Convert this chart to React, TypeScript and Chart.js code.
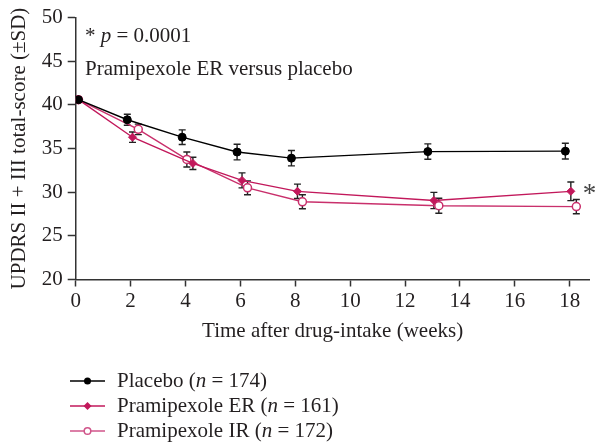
import React, { useEffect, useRef } from "react";
import { Chart, registerables } from "chart.js";

Chart.register(...registerables);

// ---- Data ----
const xTickValues = [0, 2, 4, 6, 8, 10, 12, 14, 16, 18];
const yTickValues = [20, 25, 30, 35, 40, 45, 50];

const seriesNames = ["Placebo", "Pramipexole ER", "Pramipexole IR"];
const seriesN = [174, 161, 172];

const placeboX = [0.1, 1.88, 3.88, 5.88, 7.86, 12.83, 17.84];
const placeboY = [40.6, 38.3, 36.3, 34.6, 33.9, 34.65, 34.7];
const placeboSD = [0, 0.63, 0.84, 0.9, 0.88, 0.88, 0.9];

const erX = [0.1, 2.07, 4.27, 6.06, 8.08, 13.05, 18.04];
const erY = [40.6, 36.3, 33.3, 31.35, 30.1, 29.05, 30.1];
const erSD = [0, 0.59, 0.7, 0.86, 0.82, 0.93, 1.07];

const irX = [0.1, 2.28, 4.05, 6.26, 8.26, 13.23, 18.24];
const irY = [40.6, 37.2, 33.75, 30.5, 28.9, 28.45, 28.35];
const irSD = [0, 0.6, 0.86, 0.8, 0.8, 0.86, 0.82];

const FONT = '"Liberation Serif", "Times New Roman", serif';
const FS = 21;
const TEXT = "#231f20";
const AXIS = "#333333";
const BLACK = "#000000";
const ER_COLOR = "#c2185b";
const IR_COLOR = "#c9306c";

const sdLists = [placeboSD, erSD, irSD];

function drawRuns(ctx: CanvasRenderingContext2D, x: number, y: number, runs: [string, boolean][], size: number) {
  let cx = x;
  for (const [t, it] of runs) {
    ctx.font = `${it ? "italic " : ""}${size}px ${FONT}`;
    ctx.fillText(t, cx, y);
    cx += ctx.measureText(t).width;
  }
}

const errorBarPlugin = {
  id: "errorBars",
  beforeDatasetsDraw(chart: any) {
    const ctx = chart.ctx as CanvasRenderingContext2D;
    const xs = chart.scales.x;
    const ys = chart.scales.y;
    ctx.save();
    ctx.strokeStyle = "#222";
    ctx.lineWidth = 1.4;
    chart.data.datasets.forEach((ds: any, di: number) => {
      const sds = sdLists[di];
      ds.data.forEach((p: any, i: number) => {
        const sd = sds[i];
        if (!sd) return;
        const px = xs.getPixelForValue(p.x);
        const top = ys.getPixelForValue(p.y + sd);
        const bot = ys.getPixelForValue(p.y - sd);
        ctx.beginPath();
        ctx.moveTo(px, top);
        ctx.lineTo(px, bot);
        ctx.moveTo(px - 3.5, top);
        ctx.lineTo(px + 3.5, top);
        ctx.moveTo(px - 3.5, bot);
        ctx.lineTo(px + 3.5, bot);
        ctx.stroke();
      });
    });
    ctx.restore();
  },
};

const annotationPlugin = {
  id: "annotations",
  afterDraw(chart: any) {
    const ctx = chart.ctx as CanvasRenderingContext2D;
    const xs = chart.scales.x;
    const ys = chart.scales.y;
    ctx.save();
    ctx.fillStyle = TEXT;
    ctx.textBaseline = "alphabetic";
    ctx.textAlign = "left";
    drawRuns(ctx, 85, 42, [["* ", false], ["p", true], [" = 0.0001", false]], FS);
    drawRuns(ctx, 85, 75, [["Pramipexole ER versus placebo", false]], FS);

    // significance asterisk next to last ER point
    const lastI = erX.length - 1;
    const ax = xs.getPixelForValue(erX[lastI]) + 12;
    const ay = ys.getPixelForValue(erY[lastI]);
    ctx.fillStyle = "#444";
    ctx.font = `27px ${FONT}`;
    ctx.textBaseline = "alphabetic";
    ctx.fillText("*", ax, ay + 11);

    // Legend
    const rows = [381, 406, 431];
    const colors = [BLACK, ER_COLOR, "#d0558a"];
    rows.forEach((ry, i) => {
      ctx.strokeStyle = colors[i];
      ctx.lineWidth = 1.5;
      ctx.beginPath();
      ctx.moveTo(70, ry);
      ctx.lineTo(105, ry);
      ctx.stroke();
      const mx = 87.5;
      if (i === 0) {
        ctx.fillStyle = BLACK;
        ctx.beginPath();
        ctx.arc(mx, ry, 3.5, 0, Math.PI * 2);
        ctx.fill();
      } else if (i === 1) {
        ctx.fillStyle = ER_COLOR;
        ctx.beginPath();
        ctx.moveTo(mx, ry - 4);
        ctx.lineTo(mx + 4, ry);
        ctx.lineTo(mx, ry + 4);
        ctx.lineTo(mx - 4, ry);
        ctx.closePath();
        ctx.fill();
      } else {
        ctx.fillStyle = "#fff";
        ctx.strokeStyle = colors[i];
        ctx.lineWidth = 1.5;
        ctx.beginPath();
        ctx.arc(mx, ry, 3.3, 0, Math.PI * 2);
        ctx.fill();
        ctx.stroke();
      }
      ctx.fillStyle = TEXT;
      ctx.textBaseline = "middle";
      drawRuns(ctx, 117, ry, [[seriesNames[i] + " (", false], ["n", true], [" = " + seriesN[i] + ")", false]], FS);
    });
    ctx.restore();
  },
};

function toPoints(xs: number[], ys: number[]) {
  return xs.map((x, i) => ({ x, y: ys[i] }));
}

export default function App() {
  const ref = useRef<HTMLCanvasElement | null>(null);
  useEffect(() => {
    if (!ref.current) return;
    const chart = new Chart(ref.current, {
      type: "line",
      data: {
        datasets: [
          {
            label: seriesNames[0],
            data: toPoints(placeboX, placeboY),
            borderColor: BLACK,
            backgroundColor: BLACK,
            borderWidth: 1.4,
            pointStyle: "circle",
            pointRadius: 4,
            pointBorderWidth: 1,
            pointBackgroundColor: BLACK,
            pointBorderColor: BLACK,
            tension: 0,
          },
          {
            label: seriesNames[1],
            data: toPoints(erX, erY),
            borderColor: ER_COLOR,
            backgroundColor: ER_COLOR,
            borderWidth: 1.4,
            pointStyle: "rectRot",
            pointRadius: 4,
            pointBorderWidth: 1,
            pointBackgroundColor: ER_COLOR,
            pointBorderColor: ER_COLOR,
            tension: 0,
          },
          {
            label: seriesNames[2],
            data: toPoints(irX, irY),
            borderColor: IR_COLOR,
            backgroundColor: "#ffffff",
            borderWidth: 1.4,
            pointStyle: "circle",
            pointRadius: 4,
            pointBorderWidth: 1.5,
            pointBackgroundColor: "#ffffff",
            pointBorderColor: IR_COLOR,
            tension: 0,
          },
        ],
      },
      options: {
        responsive: false,
        animation: false,
        devicePixelRatio: 1,
        layout: { padding: { top: 17, right: 0, bottom: 100, left: 0 } },
        plugins: {
          legend: { display: false },
          tooltip: { enabled: false },
        },
        scales: {
          x: {
            type: "linear",
            min: 0,
            max: 18.72,
            afterBuildTicks: (scale: any) => {
              scale.ticks = xTickValues.map((v) => ({ value: v }));
            },
            afterFit: (scale: any) => {
              scale.height = 66.5;
            },
            ticks: {
              font: { family: FONT, size: FS },
              color: TEXT,
              padding: 2,
              maxRotation: 0,
            },
            grid: {
              drawOnChartArea: false,
              drawTicks: true,
              tickLength: 7,
              tickWidth: 1.5,
              tickColor: AXIS,
            },
            border: { display: true, color: AXIS, width: 1.5 },
            title: {
              display: true,
              text: "Time after drug-intake (weeks)",
              font: { family: FONT, size: FS },
              color: TEXT,
              padding: { top: 0, bottom: 2 },
            },
          },
          y: {
            type: "linear",
            min: 20,
            max: 50,
            afterBuildTicks: (scale: any) => {
              scale.ticks = yTickValues.map((v) => ({ value: v }));
            },
            afterFit: (scale: any) => {
              scale.width = 75.7;
            },
            ticks: {
              font: { family: FONT, size: FS },
              color: TEXT,
              padding: 5,
            },
            grid: {
              drawOnChartArea: false,
              drawTicks: true,
              tickLength: 8,
              tickWidth: 1.5,
              tickColor: AXIS,
            },
            border: { display: true, color: AXIS, width: 1.5 },
            title: {
              display: true,
              text: "UPDRS II + III total-score (±SD)",
              font: { family: FONT, size: FS },
              color: TEXT,
              padding: { top: 7, bottom: 0 },
            },
          },
        },
      },
      plugins: [errorBarPlugin, annotationPlugin],
    });
    return () => chart.destroy();
  }, []);
  return (
    <div style={{ position: "fixed", left: 0, top: 0, width: 595, height: 446, background: "#fff" }}>
      <canvas ref={ref} width={595} height={446} />
    </div>
  );
}
